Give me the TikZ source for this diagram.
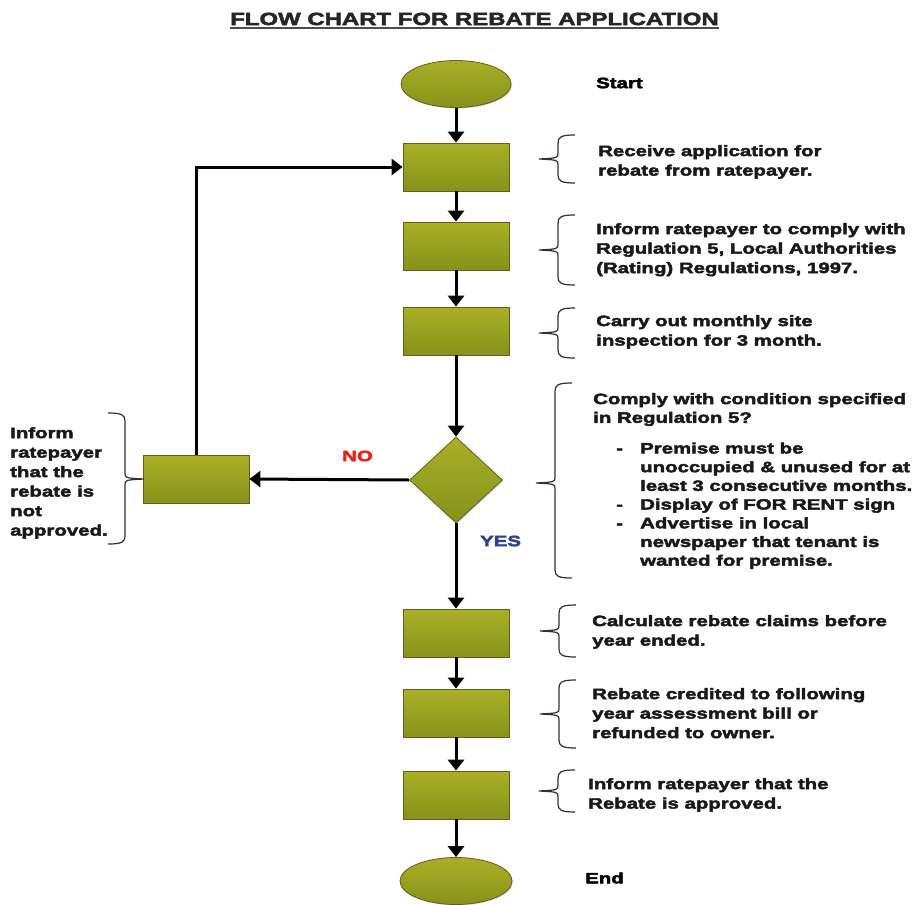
\documentclass[tikz,border=0pt]{standalone}
\usepackage{fontspec}
\setmainfont{Liberation Sans}
\newfontfamily\heavy{Liberation Sans}[FakeStretch=1.36,FakeBold=3]
\usetikzlibrary{shapes.geometric,arrows.meta,shadows}

\definecolor{gTop}{HTML}{A9B026}
\definecolor{gMid}{HTML}{919D1C}
\definecolor{gBot}{HTML}{86921A}
\definecolor{gEdge}{HTML}{6A5A1E}
\definecolor{braceInk}{HTML}{3A2C2C}
\definecolor{noRed}{HTML}{E0261E}
\definecolor{yesBlue}{HTML}{2E4199}

% curly bracket: vertical stroke at #1, from #2 to #3, point at #4, opening side #5 (1 = opens right)
\newcommand{\flowbrace}[5]{%
  \draw[bracestroke]
    ({#1+#5*17},#2) .. controls ({#1+#5*3},#2) and (#1,{#2+2}) .. (#1,{#2+8})
    -- (#1,{#4-6}) .. controls (#1,{#4-1}) .. ({#1-#5*19},#4)
    .. controls (#1,{#4+1}) .. (#1,{#4+6})
    -- (#1,{#3-8}) .. controls (#1,{#3-2}) and ({#1+#5*3},#3) .. ({#1+#5*17},#3);}

\begin{document}
\begin{tikzpicture}[x=1pt,y=-1pt,
  greenfill/.style={top color=gTop, middle color=gMid, bottom color=gBot,
    draw=gEdge, line width=0.8pt,
    drop shadow={opacity=0.3, shadow xshift=1pt, shadow yshift=-1pt}},
  procbox/.style={greenfill, rectangle, minimum width=106pt, minimum height=48pt, inner sep=0pt},
  terminal/.style={greenfill, ellipse, minimum width=110pt, minimum height=47pt, inner sep=0pt},
  decision/.style={greenfill, diamond, minimum width=93pt, minimum height=86pt, inner sep=0pt},
  flowarrow/.style={line width=3pt, -{Triangle[length=11pt,width=16pt]}},
  bracestroke/.style={line width=1.2pt, draw=braceInk},
  note/.style={font=\heavy\bfseries\fontsize{15}{19.5}\selectfont, align=left,
    inner sep=0pt, anchor=north west, text=black!90},
  tag/.style={font=\heavy\bfseries\fontsize{15}{19.5}\selectfont, inner sep=0pt, anchor=west}]

\useasboundingbox (0,0) rectangle (922,905);

% title
\node[font=\heavy\bfseries\fontsize{17.6}{20}\selectfont, inner sep=0pt, anchor=base, text=black!85]
  (title) at (474.5,25) {FLOW CHART FOR REBATE APPLICATION};
\draw[line width=1.8pt, draw=black!70] ([yshift=-3pt]title.south west) -- ([yshift=-3pt]title.south east);

% flow shapes
\node[terminal] (start) at (456,84) {};
\node[procbox]  (recv)  at (456,167) {};
\node[procbox]  (comply) at (456,246) {};
\node[procbox]  (inspect) at (456,331) {};
\node[decision] (check) at (456,480) {};
\node[procbox]  (reject) at (196,479) {};
\node[procbox]  (calc)  at (456,633) {};
\node[procbox]  (credit) at (456,713) {};
\node[procbox]  (approve) at (456,795) {};
\node[terminal, minimum width=112pt] (stop) at (456,881) {};

% connectors
\draw[flowarrow] (start) -- (recv);
\draw[flowarrow] (recv) -- (comply);
\draw[flowarrow] (comply) -- (inspect);
\draw[flowarrow] (inspect) -- (check);
\draw[flowarrow] (check.west) -- (reject.east);
\draw[flowarrow] (reject.north) |- (recv.west);
\draw[flowarrow] (check.south) -- (calc.north);
\draw[flowarrow] (calc) -- (credit);
\draw[flowarrow] (credit) -- (approve);
\draw[flowarrow] (approve) -- (stop);

% branch labels
\node[tag, text=noRed] (nolbl) at (342,456) {NO};
\node[tag, text=yesBlue] (yeslbl) at (480,541) {YES};

% descriptions
\node[tag] (startlbl) at (596,83) {Start};
\node[tag] (endlbl) at (585,878) {End};

\node[note] (recvtxt) at (598,145) {Receive application for\\rebate from ratepayer.};
\node[note] (complytxt) at (596,223) {Inform ratepayer to comply with\\Regulation 5, Local Authorities\\(Rating) Regulations, 1997.};
\node[note] (inspecttxt) at (596,315) {Carry out monthly site\\inspection for 3 month.};
\node[note, font=\heavy\bfseries\fontsize{15}{18.7}\selectfont] (checktxt) at (593,393)
  {Comply with condition specified\\in Regulation 5?\\[12pt]
   \hspace*{23pt}\makebox[24pt][l]{-}Premise must be\\
   \hspace*{47pt}unoccupied \& unused for at\\
   \hspace*{47pt}least 3 consecutive months.\\
   \hspace*{23pt}\makebox[24pt][l]{-}Display of FOR RENT sign\\
   \hspace*{23pt}\makebox[24pt][l]{-}Advertise in local\\
   \hspace*{47pt}newspaper that tenant is\\
   \hspace*{47pt}wanted for premise.};
\node[note] (calctxt) at (592,615) {Calculate rebate claims before\\year ended.};
\node[note] (credittxt) at (592,688) {Rebate credited to following\\year assessment bill or\\refunded to owner.};
\node[note] (approvetxt) at (588,778) {Inform ratepayer that the\\Rebate is approved.};
\node[note] (rejecttxt) at (10,427) {Inform\\ratepayer\\that the\\rebate is\\not\\approved.};

% brackets
\flowbrace{558}{135}{183}{159}{1}
\flowbrace{558}{215}{285}{250}{1}
\flowbrace{558}{308}{358}{333}{1}
\flowbrace{555}{383}{578}{483}{1}
\flowbrace{559}{605}{657}{631}{1}
\flowbrace{559}{680}{748}{714}{1}
\flowbrace{558}{770}{812}{791}{1}
\flowbrace{125}{413}{544}{479}{-1}

\end{tikzpicture}
\end{document}
